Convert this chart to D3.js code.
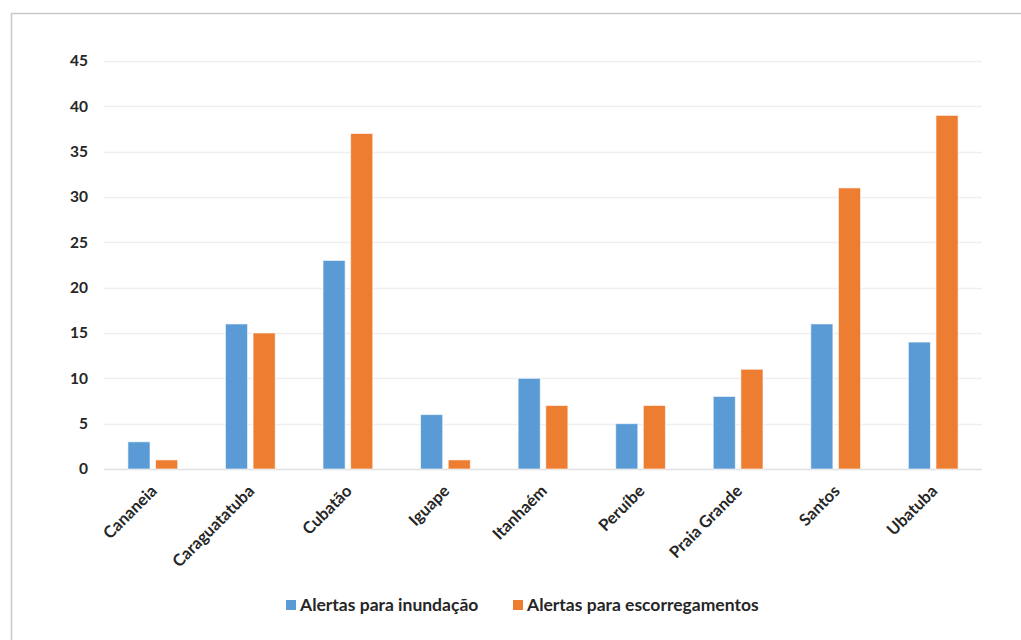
<!DOCTYPE html>
<html>
<head>
<meta charset="utf-8">
<script src="https://cdn.jsdelivr.net/npm/d3@7"></script>
<style>
  body { margin: 0; background: #fff; }
  svg { display: block; font-family: Lato, "Open Sans", sans-serif; }
</style>
</head>
<body>
<div id="chart"></div>
<script>
// data
const cities = ["Cananeia", "Caraguatatuba", "Cubatão", "Iguape", "Itanhaém", "Peruíbe", "Praia Grande", "Santos", "Ubatuba"];
const inundacao = [3, 16, 23, 6, 10, 5, 8, 16, 14];
const escorregamentos = [1, 15, 37, 1, 7, 7, 11, 31, 39];
const seriesNames = ["Alertas para inundação", "Alertas para escorregamentos"];
const yTicks = [0, 5, 10, 15, 20, 25, 30, 35, 40, 45];

const colors = ["#5B9BD5", "#ED7D31"];
const W = 1021, H = 640;
const margin = {top: 61, right: 39, bottom: 171, left: 104};
const width = W - margin.left - margin.right;
const height = H - margin.top - margin.bottom;

const svg = d3.select("#chart").append("svg")
    .attr("width", W)
    .attr("height", H);

// outer frame (only top and left edges visible)
svg.append("path")
    .attr("d", `M11.5,${H} V13.5 H${W}`)
    .attr("fill", "none")
    .attr("stroke", "#c8c8c8")
    .attr("stroke-width", 1.5);

const g = svg.append("g")
    .attr("transform", `translate(${margin.left},${margin.top})`);

const x0 = d3.scaleBand()
    .domain(cities)
    .range([0, width])
    .paddingInner(0.49)
    .paddingOuter(0.245);

const x1 = d3.scaleBand()
    .domain([0, 1])
    .range([0, x0.bandwidth()])
    .paddingInner(0.2);

const y = d3.scaleLinear()
    .domain([0, 45])
    .range([height, 0]);

// gridlines
g.append("g")
    .selectAll("line")
    .data(yTicks)
    .join("line")
    .attr("x1", 0)
    .attr("x2", width)
    .attr("y1", d => Math.round(y(d)) + 0.5)
    .attr("y2", d => Math.round(y(d)) + 0.5)
    .attr("stroke", d => d === 0 ? "#e0e0e0" : "#efefef")
    .attr("stroke-width", 1.3);

// y axis labels
const yAxis = g.append("g")
    .call(d3.axisLeft(y).tickValues(yTicks).tickSize(0).tickPadding(16));
yAxis.select(".domain").remove();
yAxis.selectAll("text")
    .attr("font-family", "Lato, sans-serif")
    .attr("font-size", 15.5)
    .attr("font-weight", "bold")
    .attr("fill", "#262626");

// bars
const rows = cities.map((c, i) => ({city: c, values: [inundacao[i], escorregamentos[i]]}));
g.append("g")
    .selectAll("g")
    .data(rows)
    .join("g")
    .attr("transform", d => `translate(${x0(d.city)},0)`)
    .selectAll("rect")
    .data(d => d.values.map((v, k) => ({k, v})))
    .join("rect")
    .attr("x", d => x1(d.k))
    .attr("y", d => y(d.v))
    .attr("width", x1.bandwidth())
    .attr("height", d => height - y(d.v))
    .attr("fill", d => colors[d.k])
    .attr("stroke", "#fff")
    .attr("stroke-opacity", 0.6)
    .attr("stroke-width", 1);

// x axis labels, rotated around their end point
const xAxis = g.append("g")
    .attr("transform", `translate(0,${height})`)
    .call(d3.axisBottom(x0).tickSize(0).tickPadding(0));
xAxis.select(".domain").remove();
xAxis.selectAll(".tick text")
    .attr("x", 0)
    .attr("y", 0)
    .attr("font-family", "Lato, sans-serif")
    .attr("font-size", 16.5)
    .attr("font-weight", "bold")
    .attr("fill", "#262626")
    .attr("text-anchor", "end")
    .attr("dy", "0.35em")
    .attr("transform", "translate(1,19) rotate(-45)");

// legend
const legend = svg.append("g")
    .attr("transform", "translate(286,605)");
const legendX = [0, 227];
seriesNames.forEach((name, i) => {
    const item = legend.append("g").attr("transform", `translate(${legendX[i]},0)`);
    item.append("rect")
        .attr("x", 0)
        .attr("y", -5)
        .attr("width", 10)
        .attr("height", 10)
        .attr("fill", colors[i]);
    item.append("text")
        .attr("x", 14)
        .attr("y", 0)
        .attr("dy", "0.35em")
        .attr("font-size", 17.5)
        .attr("font-weight", "bold")
        .attr("fill", "#262626")
        .text(name);
});
</script>
</body>
</html>
